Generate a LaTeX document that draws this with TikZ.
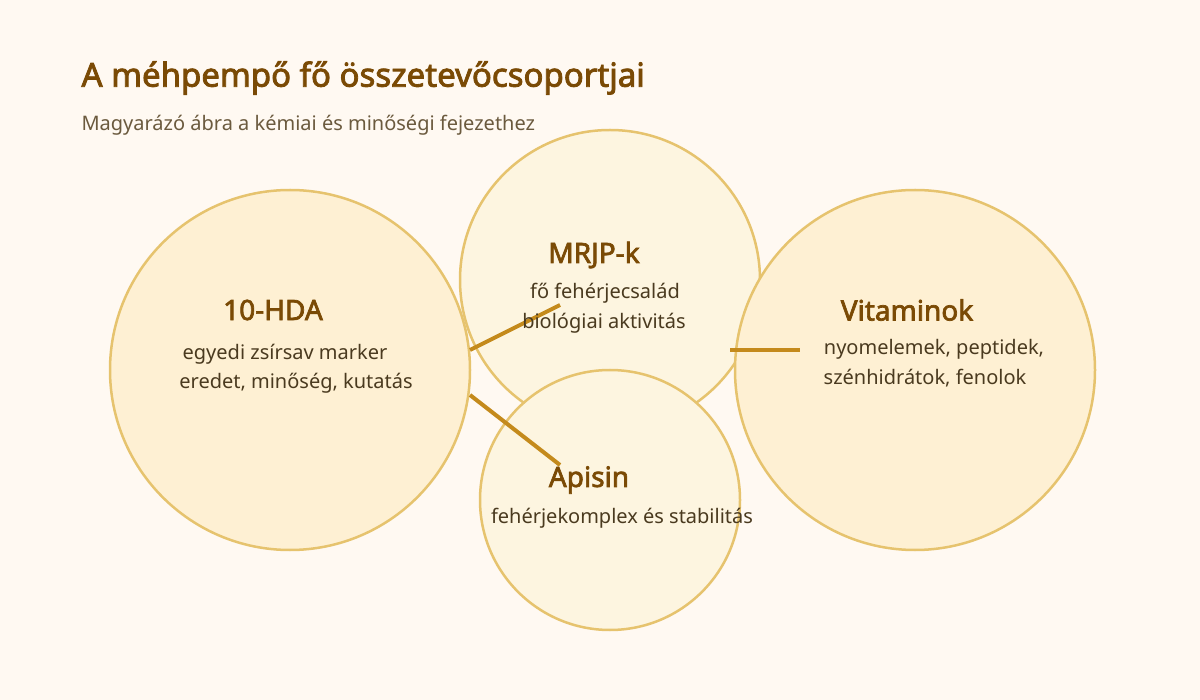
\documentclass[tikz,border=0pt]{standalone}
\usepackage{fontspec}
\setmainfont{Noto Sans}[BoldFont={Noto Sans},BoldFeatures={FakeBold=2.5}]
\usetikzlibrary{positioning}
\definecolor{bgc}{HTML}{FFF9F2}
\definecolor{ringc}{HTML}{E6C36E}
\definecolor{fillbig}{HTML}{FEF0D3}
\definecolor{fillsmall}{HTML}{FDF5E0}
\definecolor{linkc}{HTML}{C48A1C}
\definecolor{headc}{HTML}{7A4A05}
\definecolor{bodyc}{HTML}{4A3A1F}
\definecolor{subc}{HTML}{6B5A3E}
\tikzset{
  blob/.style={circle, draw=ringc, line width=2.5pt, inner sep=0pt},
  heading/.style={text=headc, font=\fontsize{28}{30}\selectfont\bfseries},
  note/.style={text=bodyc, font=\fontsize{20}{24}\selectfont},
  link/.style={draw=linkc, line width=4pt}
}
\begin{document}
\begin{tikzpicture}[x=1pt,y=-1pt]
\fill[bgc] (0,0) rectangle (1200,700);
\useasboundingbox (0,0) rectangle (1200,700);
\node[anchor=west, text=headc, font=\fontsize{33}{36}\selectfont\bfseries] (title) at (78,78) {A méhpempő fő összetevőcsoportjai};
\node[anchor=west, text=subc, font=\fontsize{20}{24}\selectfont] (sub) at (78,125) {Magyarázó ábra a kémiai és minőségi fejezethez};
% circles
\node[blob, fill=fillbig, minimum size=360pt] (hda) at (290,370) {};
\node[blob, fill=fillsmall, minimum size=300pt] (mrjp) at (610,280) {};
\node[blob, fill=fillbig, minimum size=360pt] (vit) at (915,370) {};
\node[blob, fill=fillsmall, minimum size=260pt] (api) at (610,500) {};
% links
\coordinate (a1) at (470,350); \coordinate (a2) at (560,305);
\coordinate (b1) at (470,395); \coordinate (b2) at (560,465);
\coordinate (c1) at (730,350); \coordinate (c2) at (800,350);
\draw[link] (a1) -- (a2);
\draw[link] (b1) -- (b2);
\draw[link] (c1) -- (c2);
% labels
\node[heading] (hdat) at (273,310) {10-HDA};
\node[note] (hda1) at (285,354) {egyedi zsírsav marker};
\node[note] (hda2) at (296,383) {eredet, minőség, kutatás};
\node[heading] (mrjpt) at (594,255) {MRJP-k};
\node[note] (mrjp1) at (605,293) {fő fehérjecsalád};
\node[note] (mrjp2) at (604,323) {biológiai aktivitás};
\node[heading] (vitt) at (907,310) {Vitaminok};
\node[note] (vit1) at (934,349) {nyomelemek, peptidek,};
\node[note] (vit2) at (925,378) {szénhidrátok, fenolok};
\node[heading] (apit) at (589,480) {Apisin};
\node[note] (api1) at (622,518) {fehérjekomplex és stabilitás};
\end{tikzpicture}
\end{document}
